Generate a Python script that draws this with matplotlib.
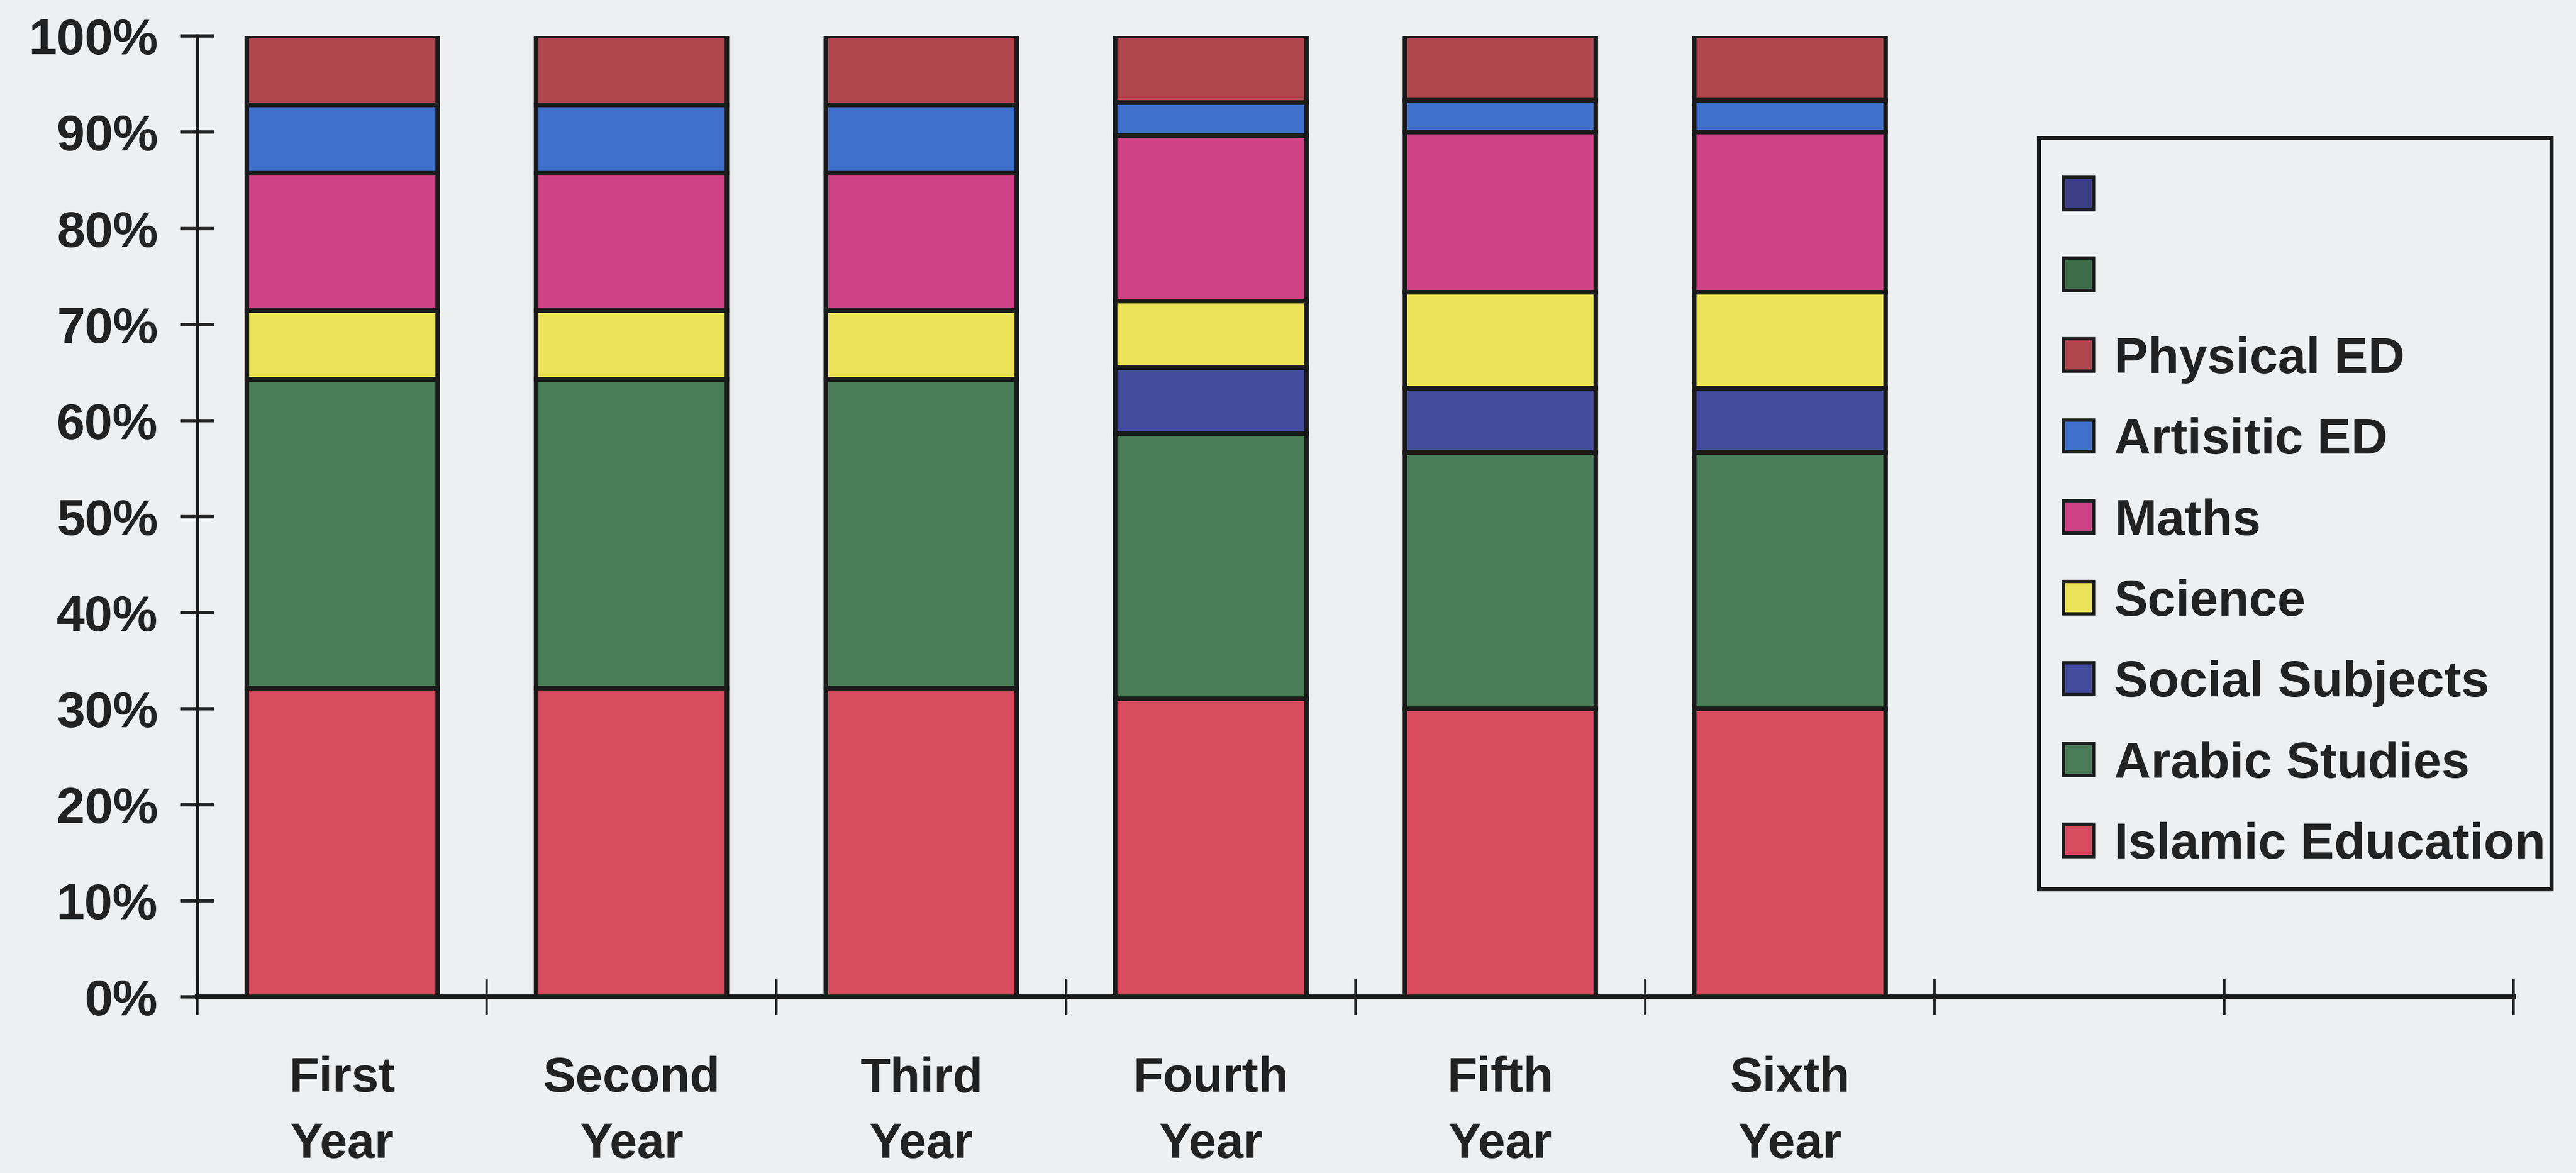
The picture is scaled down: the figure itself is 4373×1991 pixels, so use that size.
import matplotlib
matplotlib.use("Agg")
import matplotlib.pyplot as plt
from matplotlib.patches import Patch, Rectangle
import numpy as np

plt.rcParams['font.family'] = ['Liberation Sans', 'DejaVu Sans']
plt.rcParams['font.weight'] = 'bold'

categories = ["First\nYear", "Second\nYear", "Third\nYear", "Fourth\nYear", "Fifth\nYear", "Sixth\nYear"]
subjects = ["Islamic Education", "Arabic Studies", "Social Subjects", "Science",
            "Maths", "Artisitic ED", "Physical ED"]
# weekly periods per subject (read as shares of the 100% bars)
islamic = [9, 9, 9, 9, 9, 9]
arabic = [9, 9, 9, 8, 8, 8]
social = [0, 0, 0, 2, 2, 2]
science = [2, 2, 2, 2, 3, 3]
maths = [4, 4, 4, 5, 5, 5]
artistic = [2, 2, 2, 1, 1, 1]
physical = [2, 2, 2, 2, 2, 2]
yticks = [0, 10, 20, 30, 40, 50, 60, 70, 80, 90, 100]
ytick_labels = ["0%", "10%", "20%", "30%", "40%", "50%", "60%", "70%", "80%", "90%", "100%"]
n_slots = 8

colors = ["#D94B5E", "#4A7D57", "#444C9E", "#EDE35A", "#CF4386", "#3F70CC", "#B0474F"]
blank_colors = ["#3C3F86", "#3E6D49"]
bg = "#EDEFF1"
txt = "#222222"

series = np.array([islamic, arabic, social, science, maths, artistic, physical], dtype=float)
pct = series / series.sum(axis=0) * 100

fig = plt.figure(figsize=(43.73, 19.91), dpi=100, facecolor=bg)
ax = fig.add_axes([0.0766, 0.150, 0.8992, 0.8192], facecolor=bg)

x = np.arange(len(categories)) + 0.5
bottom = np.zeros(len(categories))
handles = []
for i, name in enumerate(subjects):
    ax.bar(x, pct[i], width=0.66, bottom=bottom, color=colors[i],
           edgecolor="#1a1a1a", linewidth=5.5, zorder=3)
    bottom += pct[i]
    handles.append(Patch(facecolor=colors[i], edgecolor="#1a1a1a", linewidth=4, label=name))

legend_handles = [Patch(facecolor=c, edgecolor="#1a1a1a", linewidth=4, label="") for c in blank_colors]
legend_handles += handles[::-1]

ax.set_xlim(0, n_slots)
ax.set_ylim(0, 100)
ax.set_yticks(yticks)
ax.set_yticklabels(ytick_labels)
ax.set_xticks(np.arange(n_slots + 1))
ax.set_xticklabels([])
ax.set_xticks(x, minor=True)
ax.set_xticklabels(categories, minor=True)

ax.tick_params(axis='y', direction='inout', length=40, width=4, labelsize=62,
               colors=txt, pad=28)
ax.tick_params(axis='x', which='major', direction='inout', length=44, width=3, colors=txt)
ax.tick_params(axis='x', which='minor', length=0, labelsize=60, pad=72, colors=txt)
for lbl in ax.get_xticklabels(minor=True):
    lbl.set_linespacing(1.55)
    lbl.set_fontweight('bold')
for lbl in ax.get_yticklabels():
    lbl.set_fontweight('bold')

for s in ['top', 'right']:
    ax.spines[s].set_visible(False)
ax.spines['left'].set_linewidth(4)
ax.spines['bottom'].set_linewidth(6)
ax.spines['left'].set_color("#1a1a1a")
ax.spines['bottom'].set_color("#1a1a1a")

# legend frame
fig.patches.append(Rectangle((0.7915, 0.2421), 0.1989, 0.6404, transform=fig.transFigure,
                             fill=False, edgecolor="#1a1a1a", linewidth=5, zorder=5))

leg = fig.legend(handles=legend_handles, loc='upper left', bbox_to_anchor=(0.801, 0.851),
                 fontsize=62, frameon=False, handlelength=0.6, handleheight=0.6,
                 handletextpad=0.4, labelspacing=0.665, borderpad=0, borderaxespad=0)
for t in leg.get_texts():
    t.set_color(txt)
    t.set_fontweight('bold')

fig.savefig("out.png", dpi=100, facecolor=bg)
